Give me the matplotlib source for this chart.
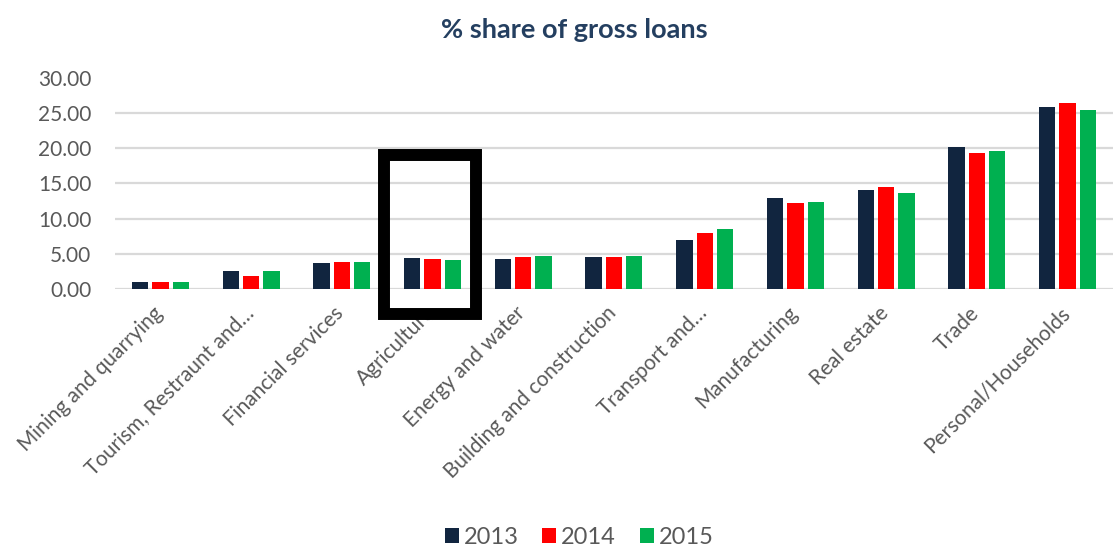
import numpy as np
import matplotlib
matplotlib.use("Agg")
import matplotlib.pyplot as plt
from matplotlib.patches import Rectangle
from matplotlib.transforms import ScaledTranslation

plt.rcParams["font.family"] = ["Lato", "DejaVu Sans"]

sectors = [
    "Mining and quarrying",
    "Tourism, Restraunt and…",
    "Financial services",
    "Agriculture",
    "Energy and water",
    "Building and construction",
    "Transport and…",
    "Manufacturing",
    "Real estate",
    "Trade",
    "Personal/Households",
]
share_2013 = [1.0, 2.5, 3.7, 4.4, 4.2, 4.6, 7.0, 13.0, 14.1, 20.2, 25.9]
share_2014 = [1.0, 1.8, 3.8, 4.2, 4.6, 4.5, 7.9, 12.2, 14.5, 19.4, 26.5]
share_2015 = [1.0, 2.6, 3.8, 4.1, 4.7, 4.7, 8.5, 12.3, 13.6, 19.6, 25.5]
years = ["2013", "2014", "2015"]
colors = ["#11253F", "#FF0000", "#00B050"]

TEXT_GREY = "#595959"
GRID_GREY = "#D9D9D9"

fig = plt.figure(figsize=(11.2, 5.47), dpi=100)
ax = fig.add_axes([0.1027, 0.4717, 0.891, 0.3857])

x = np.arange(len(sectors))
width = 0.18
step = 0.224
for i, (vals, yr, c) in enumerate(zip([share_2013, share_2014, share_2015], years, colors)):
    ax.bar(x + (i - 1) * step, vals, width, color=c, label=yr, zorder=3)

ax.set_xlim(-0.5, len(sectors) - 0.5)
ax.set_ylim(0, 30)
ax.set_yticks(np.arange(0, 31, 5))
ax.set_yticklabels([f"{v:.2f}" for v in np.arange(0, 31, 5)])
ax.set_xticks(x)
ax.set_xticklabels(sectors, rotation=45, ha="right", va="top", rotation_mode="anchor")

ax.tick_params(axis="both", length=0, labelsize=15, labelcolor=TEXT_GREY)
ax.tick_params(axis="y", pad=17)
ax.tick_params(axis="x", pad=10)

# nudge the slanted category labels a little to the left
shift = ScaledTranslation(-8 / 100, 0, fig.dpi_scale_trans)
for lbl in ax.get_xticklabels():
    lbl.set_transform(lbl.get_transform() + shift)

ax.yaxis.grid(True, color=GRID_GREY, linewidth=1.6, zorder=0)
ax.get_ygridlines()[-1].set_visible(False)
for s in ax.spines.values():
    s.set_visible(False)

# highlight box around agriculture
ax.add_patch(Rectangle((2.46, -3.58), 1.02, 22.7, fill=False, edgecolor="black",
                       linewidth=8.6, clip_on=False, zorder=5))

fig.text(0.513, 0.945, "% share of gross loans", ha="center", va="center",
         fontsize=19.5, fontweight="bold", color="#243F60")

leg = fig.legend(loc="center", bbox_to_anchor=(0.517, 0.018), ncol=3, frameon=False,
                 fontsize=17, handlelength=0.6, handleheight=0.6, handletextpad=0.2,
                 columnspacing=1.0, labelcolor=TEXT_GREY)

fig.savefig("out.png", dpi=100)
